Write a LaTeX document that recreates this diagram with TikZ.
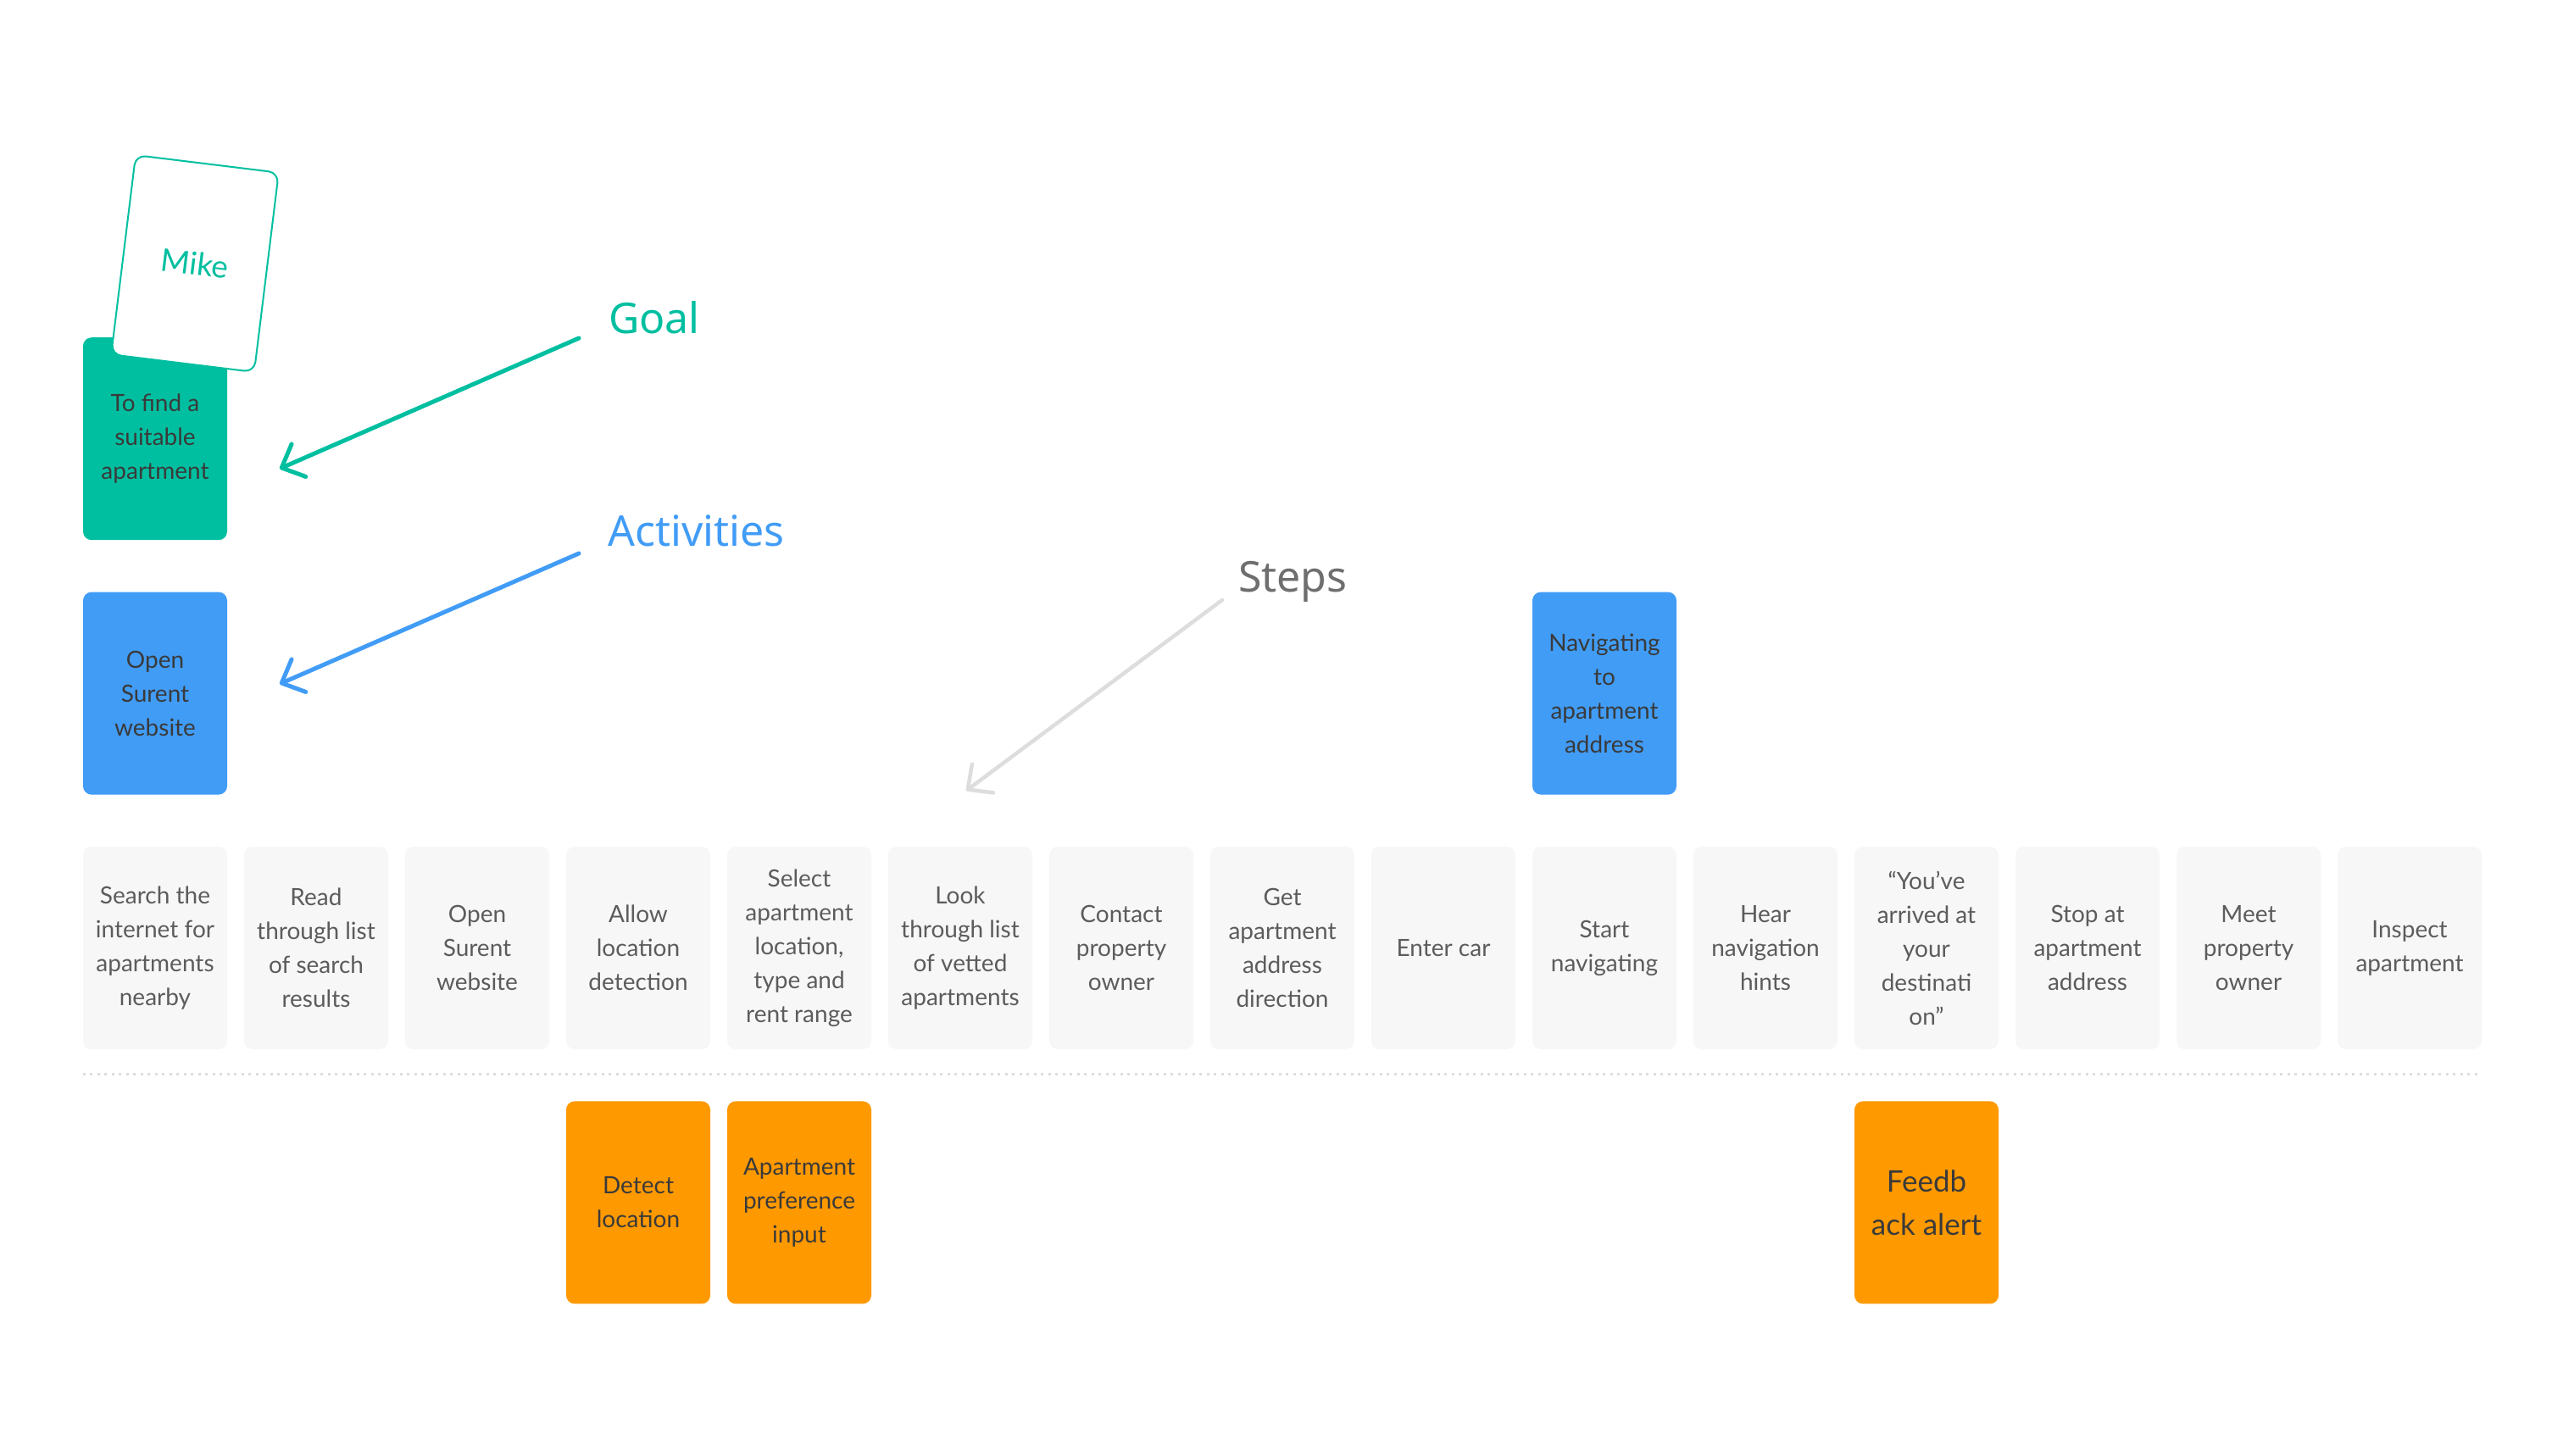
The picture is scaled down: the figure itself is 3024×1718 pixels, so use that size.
\documentclass[tikz,border=0pt]{standalone}
\usepackage{fontspec}
\setmainfont{Lato}
\newfontfamily\tagfont{Noto Sans}
\usetikzlibrary{positioning,arrows.meta}

\definecolor{goalgreen}{HTML}{00BFA0}
\definecolor{actblue}{HTML}{419CF6}
\definecolor{needorange}{HTML}{FF9900}
\definecolor{stepgray}{HTML}{F7F7F7}
\definecolor{steptext}{HTML}{5C5C5C}
\definecolor{darktext}{HTML}{3A3A3A}
\definecolor{stepslabel}{HTML}{6E6E6E}
\definecolor{lightline}{HTML}{DDDDDD}

\tikzset{
  card/.style={rounded corners=10pt, minimum width=170pt, minimum height=239pt,
    inner sep=0pt, align=center, font=\fontsize{28}{40}\selectfont},
  stepbox/.style={card, fill=stepgray, text=steptext},
  goalbox/.style={card, fill=goalgreen, text=darktext},
  actbox/.style={card, fill=actblue, text=darktext},
  needbox/.style={card, fill=needorange, text=darktext},
  tag/.style={font=\tagfont\fontsize{50}{58}\selectfont, inner sep=0pt, anchor=base west},
  pointer/.style={line width=5pt, line cap=round, -{Straight Barb[length=22pt,width=42pt,round]}},
}

\begin{document}
\begin{tikzpicture}[x=1pt,y=-1pt]
    \fill[white] (0,0) rectangle (3024,1718);
    \useasboundingbox (0,0) rectangle (3024,1718);

    % Steps
    \foreach \nm/\txt [count=\i from 0] in {
        s1/{Search the\\internet for\\apartments\\nearby},
        s2/{Read\\through list\\of search\\results},
        s3/{Open\\Surent\\website},
        s4/{Allow\\location\\detection},
        s5/{Select\\apartment\\location,\\type and\\rent range},
        s6/{Look\\through list\\of vetted\\apartments},
        s7/{Contact\\property\\owner},
        s8/{Get\\apartment\\address\\direction},
        s9/{Enter car},
        s10/{Start\\navigating},
        s11/{Hear\\navigation\\hints},
        s12/{“You’ve\\arrived at\\your\\destinati\\on”},
        s13/{Stop at\\apartment\\address},
        s14/{Meet\\property\\owner},
        s15/{Inspect\\apartment}}
        \node[stepbox] (\nm) at (183+190*\i, 1118.5) {\txt};

    \draw[lightline, line width=3pt, dash pattern=on 3pt off 5.5pt]
        ([yshift=-29pt]s1.south west) -- ([yshift=-29pt]s15.south east);

    % Activities
    \node[actbox, above=61pt of s1] (a1) {Open\\Surent\\website};
    \node[actbox, above=61pt of s10] (a2) {Navigating\\to\\apartment\\address};

    % Goal
    \node[goalbox, above=61pt of a1] (g1) {To find a\\suitable\\apartment};
    \node[draw=goalgreen, line width=2pt, fill=white, rounded corners=12pt,
        minimum width=170pt, minimum height=237pt, rotate=-7, text=goalgreen,
        font=\fontsize{37}{40}\selectfont] (mike) at (230,311) {Mike};

    % Needs
    \node[needbox, below=61pt of s4] (n1) {Detect\\location};
    \node[needbox, below=61pt of s5] (n2) {Apartment\\preference\\input};
    \node[needbox, below=61pt of s12, font=\fontsize{35}{51}\selectfont] (n3) {Feedb\\ack alert};

    % Labels
    \node[tag, text=goalgreen] (goal) at (718,393) {Goal};
    \node[tag, text=actblue] (acts) at (717,644) {Activities};
    \node[tag, text=stepslabel] (steps) at (1461,698) {Steps};

    \coordinate (goaltip) at (330,553);
    \coordinate (actstip) at (330,807);
    \coordinate (stepstip) at (1140,933);
    \draw[pointer, goalgreen] ([shift={(-35,6)}]goal.base west) -- (goaltip);
    \draw[pointer, actblue] ([shift={(-34,9)}]acts.base west) -- (actstip);
    \draw[pointer, lightline, line width=4.5pt] ([shift={(-19,10)}]steps.base west) -- (stepstip);
\end{tikzpicture}
\end{document}
